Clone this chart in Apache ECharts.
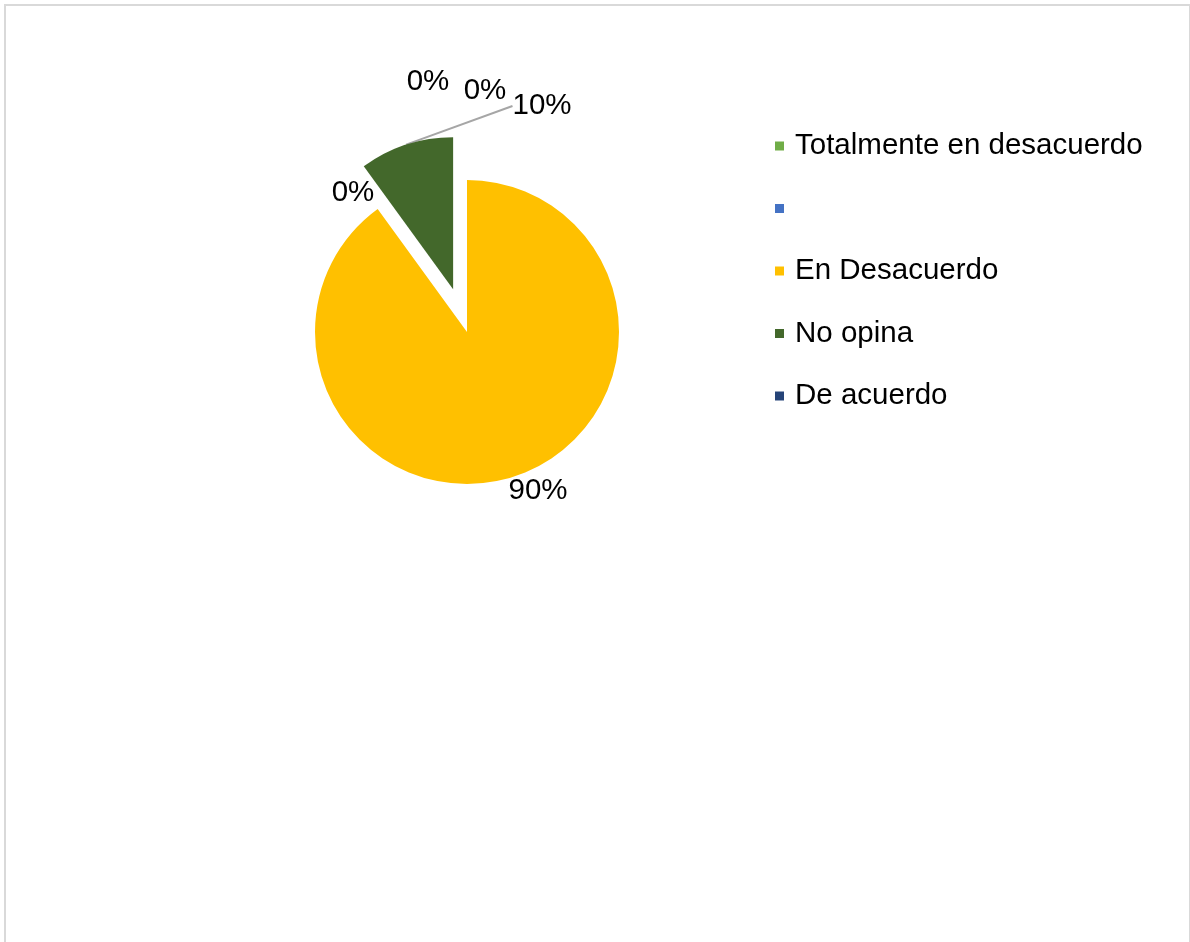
<!DOCTYPE html>
<html>
<head>
<meta charset="utf-8">
<script src="https://cdn.jsdelivr.net/npm/echarts@6/dist/echarts.min.js"></script>
<style>
  body { margin: 0; background: #fff; }
  #frame { position: absolute; left: 4px; top: 4px; width: 1183px; height: 960px; border: 2px solid #d9d9d9; border-bottom: none; }
  #chart { position: absolute; left: 0; top: 0; width: 1190px; height: 942px; }
</style>
</head>
<body>
<div id="frame"></div>
<div id="chart"></div>
<script>
// the second category has no text in the source; a single space keeps it as a legend entry
const categories = ["Totalmente en desacuerdo", " ", "En Desacuerdo", "No opina", "De acuerdo"]
const values = [0, 0, 90, 10, 0]
const colors = ["#70AD47", "#4472C4", "#FFC000", "#43682B", "#264478"]
const exploded = "No opina"

const chart = echarts.init(document.getElementById("chart"))

const font = "'Liberation Sans', Arial, sans-serif"
const center = [467, 332]
const radius = 152
const explodeBy = 45

// mid angle of the exploded slice (start at 12 o'clock, clockwise)
const total = values.reduce((a, b) => a + b, 0)
const ei = categories.indexOf(exploded)
const before = values.slice(0, ei).reduce((a, b) => a + b, 0)
const mid = (90 - 360 * (before + values[ei] / 2) / total) * Math.PI / 180
const explodedCenter = [center[0] + Math.cos(mid) * explodeBy, center[1] - Math.sin(mid) * explodeBy]

// where Excel's "best fit" put each data label (label centres)
const labelFix = { 0: [428, 82], 1: [485, 91], 2: [538, 491], 3: [542, 106], 4: [353, 193] }
const labelLayout = (p) => {
  const spot = labelFix[p.dataIndex]
  if (!spot) return {}
  return { x: spot[0], y: spot[1], align: "center", verticalAlign: "middle" }
}

const labelStyle = {
  show: true,
  position: "outside",
  fontFamily: font,
  fontSize: 29.5,
  color: "#000",
  formatter: (p) => Math.round(p.percent) + "%"
}

function pieSeries(keep, c) {
  return {
    type: "pie",
    center: c,
    radius: radius,
    startAngle: 90,
    clockwise: true,
    silent: true,
    avoidLabelOverlap: false,
    label: labelStyle,
    labelLine: { show: false, length: 14, length2: 0 },
    labelLayout: labelLayout,
    data: categories.map((name, i) => {
      const on = keep(name)
      return {
        name: name,
        value: values[i],
        itemStyle: { color: on ? colors[i] : "rgba(0,0,0,0)" },
        label: { show: on },
        labelLine: name === exploded && on ? { show: true, lineStyle: { color: "#a6a6a6", width: 2 } } : undefined
      }
    })
  }
}

const option = {
  animation: false,
  legend: {
    orient: "vertical",
    left: 770,
    top: 126,
    icon: "rect",
    itemWidth: 9,
    itemHeight: 9,
    itemGap: 32.5,
    textStyle: { fontFamily: font, fontSize: 29.5, color: "#000", lineHeight: 30, padding: [0, 0, 0, 6] },
    data: categories.map((c, i) => ({ name: c, itemStyle: { color: colors[i] } }))
  },
  series: [
    pieSeries((n) => n !== exploded, center),
    pieSeries((n) => n === exploded, explodedCenter)
  ]
}
chart.setOption(option)
</script>
</body>
</html>
